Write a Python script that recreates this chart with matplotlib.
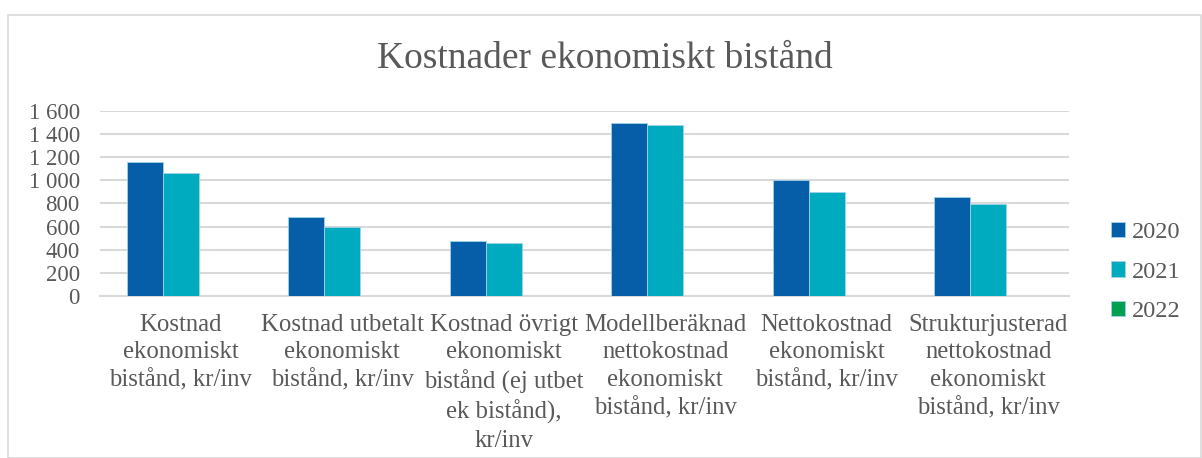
import numpy as np
import matplotlib
matplotlib.use("Agg")
import matplotlib.pyplot as plt
from matplotlib.patches import Rectangle
from matplotlib.ticker import FuncFormatter

# data
categories = [
    "Kostnad\nekonomiskt\nbistånd, kr/inv",
    "Kostnad utbetalt\nekonomiskt\nbistånd, kr/inv",
    "Kostnad övrigt\nekonomiskt\nbistånd (ej utbet\nek bistånd),\nkr/inv",
    "Modellberäknad\nnettokostnad\nekonomiskt\nbistånd, kr/inv",
    "Nettokostnad\nekonomiskt\nbistånd, kr/inv",
    "Strukturjusterad\nnettokostnad\nekonomiskt\nbistånd, kr/inv",
]
years = ["2020", "2021", "2022"]
v2020 = [1160, 682, 472, 1491, 1002, 857]
v2021 = [1062, 600, 458, 1477, 895, 792]
v2022 = [np.nan] * 6  # inga värden för 2022

colors = ["#075EA8", "#00ABC0", "#00A050"]
grey = "#595959"
plt.rcParams["font.family"] = ["Liberation Serif", "DejaVu Serif"]

W, H = 1202, 458
fig = plt.figure(figsize=(W / 100, H / 100), dpi=100)

# chart area border
fig.patches.append(Rectangle((8 / W, 0), (1201 - 8) / W, (H - 15) / H,
                             transform=fig.transFigure, fill=False,
                             edgecolor="#D9D9D9", linewidth=1.2))

ax = fig.add_axes([100 / W, (H - 296) / H, 969 / W, (296 - 110.7) / H])

x = np.arange(len(categories))
w = 0.223
handles = []
for i, (vals, lab) in enumerate(zip([v2020, v2021, v2022], years)):
    b = ax.bar(x + (i - 1) * w, vals, w, color=colors[i], label=lab,
               edgecolor="#9FD3E6", linewidth=0.6, zorder=3)
    handles.append(b)

ax.set_ylim(0, 1600)
ax.set_xlim(-0.5, len(categories) - 0.5)
ax.set_yticks(range(0, 1601, 200))
ax.yaxis.set_major_formatter(FuncFormatter(lambda v, p: f"{int(v):,}".replace(",", " ")))
ax.grid(axis="y", color="#D9D9D9", linewidth=1.5, zorder=0)
for s in ["top", "right", "left"]:
    ax.spines[s].set_visible(False)
ax.spines["bottom"].set_color("#D9D9D9")
ax.spines["bottom"].set_linewidth(1.5)
ax.tick_params(length=0, labelcolor=grey)
ax.tick_params(axis="y", pad=14.5, labelsize=16.5)
ax.tick_params(axis="x", pad=13, labelsize=17.8)
ax.set_xticks(x)
ax.set_xticklabels(categories, linespacing=1.32)

fig.text(605 / W, 1 - 59 / H, "Kostnader ekonomiskt bistånd", ha="center",
         va="center", fontsize=27, color=grey)

leg = fig.legend(handles=handles, loc="center left",
                 bbox_to_anchor=(1089 / W, 1 - 272 / H), frameon=False,
                 fontsize=17.5, handlelength=0.6, handleheight=0.6,
                 handletextpad=0.25, labelspacing=0.75)
for t in leg.get_texts():
    t.set_color(grey)

fig.savefig("out.png", dpi=100)
